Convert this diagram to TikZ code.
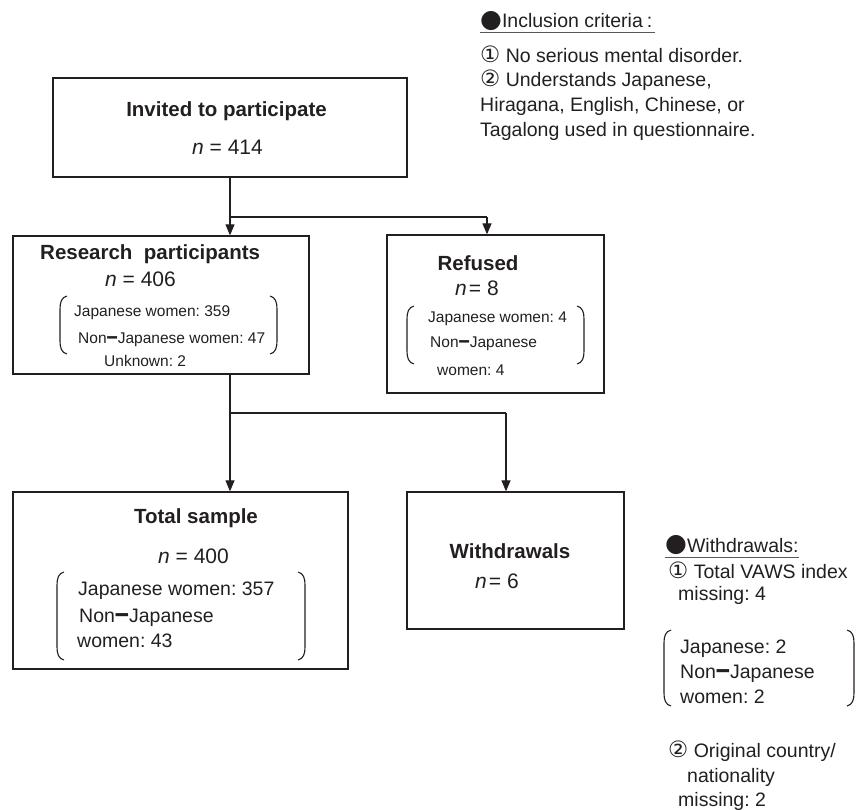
\documentclass[tikz,border=0pt]{standalone}
\usepackage{fontspec}
\usepackage{graphicx}
\setmainfont{Liberation Sans}
\newfontfamily\symf{DejaVu Sans}
\usetikzlibrary{arrows.meta}
\definecolor{ink}{RGB}{35,31,32}
\newcommand\jd{\raisebox{-0.1em}{\scalebox{1.3}[1.6]{\bfseries –}}}
\newcommand\cA{{\symf\fontsize{22.5}{24}\selectfont ①}}
\newcommand\cB{{\symf\fontsize{22.5}{24}\selectfont ②}}
\newcommand\bul{\raisebox{0.03em}{\symf\fontsize{25}{24}\selectfont ●}}
\newcommand\brkL[3]{\draw[brk] (#1+7,#2) .. controls (#1+1.5,#2+1.5) and (#1,#2+6) .. (#1,#2+13) -- (#1,#3-13) .. controls (#1,#3-6) and (#1+1.5,#3-1.5) .. (#1+7,#3);}
\newcommand\brkR[3]{\draw[brk] (#1-7,#2) .. controls (#1-1.5,#2+1.5) and (#1,#2+6) .. (#1,#2+13) -- (#1,#3-13) .. controls (#1,#3-6) and (#1-1.5,#3-1.5) .. (#1-7,#3);}
\begin{document}
\frenchspacing
\begin{tikzpicture}[x=1pt,y=-1pt,
  box/.style={draw=ink, line width=1.3pt, inner sep=0pt},
  conn/.style={draw=ink, line width=1.2pt},
  arr/.style={conn, -{Triangle[width=9pt,length=11pt]}},
  brk/.style={draw=ink, line width=1.1pt},
  ttl/.style={font=\fontsize{20.5}{24}\selectfont\bfseries, text=ink, anchor=base, inner sep=0pt},
  nn/.style={font=\fontsize{21}{24}\selectfont, text=ink, anchor=base west, inner sep=0pt},
  bt/.style={font=\fontsize{19.5}{24}\selectfont, text=ink, anchor=base west, inner sep=0pt},
  st/.style={font=\fontsize{15.5}{19}\selectfont, text=ink, anchor=base west, inner sep=0pt},
  uline/.style={draw=ink!75, line width=1pt}]
\useasboundingbox (0,0) rectangle (856,810);

% boxes
\node[box, minimum width=354pt, minimum height=99pt] (inv) at (230,127.5) {};
\node[box, minimum width=296pt, minimum height=138pt] (res) at (161,305) {};
\node[box, minimum width=217pt, minimum height=158pt] (ref) at (495.5,314) {};
\node[box, minimum width=335pt, minimum height=177pt] (tot) at (180.5,580.5) {};
\node[box, minimum width=217pt, minimum height=137pt] (wd) at (515.5,560.5) {};

% connectors
\coordinate (j1) at (230,217);
\coordinate (j2) at (487,217);
\coordinate (j3) at (230,413);
\coordinate (j4) at (506,413);
\draw[conn] (j1 |- inv.south) -- (j1) -- (j2);
\draw[arr] (j1) -- (j1 |- res.north);
\draw[arr] (j2) -- (j2 |- ref.north);
\draw[conn] (j3 |- res.south) -- (j3) -- (j4);
\draw[arr] (j3) -- (j3 |- tot.north);
\draw[arr] (j4) -- (j4 |- wd.north);

% invited
\node[ttl] (invT) at (226.5,117) {Invited to participate};
\node[nn] (invN) at (192,155) {\textit{n} = 414};

% research participants
\node[ttl, anchor=base west] (resT) at (40,260) {Research\ \ participants};
\node[nn] (resN) at (105,287) {\textit{n} = 406};
\node[st] (res1) at (74,316) {Japanese women: 359};
\node[st] (res2) at (78,343) {Non\jd Japanese women: 47};
\node[st] (res3) at (104,366) {Unknown: 2};
\brkL{60}{296}{354}
\brkR{277}{296}{354}

% refused
\node[ttl] (refT) at (478,270) {Refused};
\node[nn] (refN) at (455,295) {\textit{n}\hspace{0.1em}= 8};
\node[st] (ref1) at (428,322) {Japanese women: 4};
\node[st] (ref2) at (430,347) {Non\jd Japanese};
\node[st] (ref3) at (437,375) {women: 4};
\brkL{407}{306}{364}
\brkR{584}{306}{364}

% total sample
\node[ttl] (totT) at (196,523) {Total sample};
\node[nn] (totN) at (158,563) {\textit{n} = 400};
\node[bt] (tot1) at (78,595) {Japanese women: 357};
\node[bt] (tot2) at (79,622) {Non\jd Japanese};
\node[bt] (tot3) at (77,647) {women: 43};
\brkL{57}{572}{660}
\brkR{305}{572}{660}

% withdrawals
\node[ttl] (wdT) at (510,558) {Withdrawals};
\node[nn] (wdN) at (475,588) {\textit{n}\hspace{0.1em}= 6};

% inclusion criteria note
\node[bt] (incH) at (480,28) {\bul Inclusion criteria\hspace{0.2em}:};
\draw[uline] ([yshift=-5pt]incH.base west) -- ([yshift=-5pt,xshift=3pt]incH.base east);
\node[bt] (inc1) at (480,63) {\cA\ No serious mental disorder.};
\node[bt] (inc2) at (480,87) {\cB\ Understands Japanese,};
\node[bt] (inc3) at (480,112) {Hiragana, English, Chinese, or};
\node[bt] (inc4) at (480,137) {Tagalong used in questionnaire.};

% withdrawals note
\node[bt] (wnH) at (665,552) {\bul Withdrawals:};
\draw[uline] ([yshift=-5pt]wnH.base west) -- ([yshift=-5pt]wnH.base east);
\node[bt] (wn1) at (668,578) {\cA\ Total VAWS index};
\node[bt] (wn2) at (678,600) {missing: 4};
\node[bt] (wn3) at (680,653) {Japanese: 2};
\node[bt] (wn4) at (680,678) {Non\jd Japanese};
\node[bt] (wn5) at (680,703) {women: 2};
\brkL{664}{630}{706}
\brkR{854}{630}{706}
\node[bt] (wn6) at (668,757) {\cB\ Original country/};
\node[bt] (wn7) at (687,782) {nationality};
\node[bt] (wn8) at (678,806) {missing: 2};
\end{tikzpicture}
\end{document}
